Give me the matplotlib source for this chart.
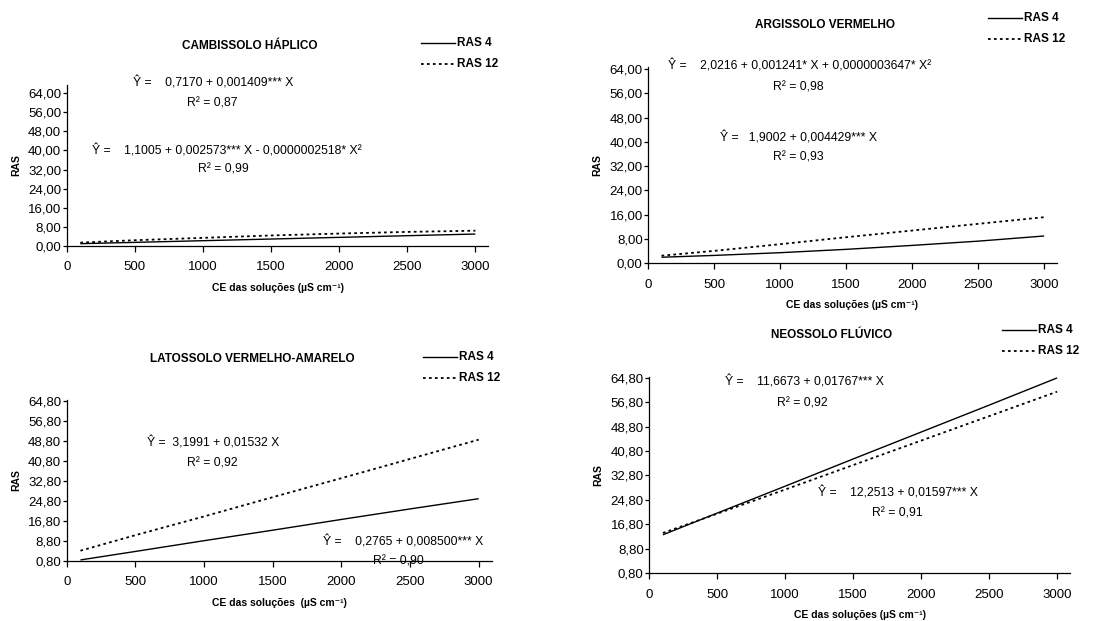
import matplotlib
matplotlib.use("Agg")
import matplotlib.pyplot as plt
from matplotlib.lines import Line2D

plt.rcParams['font.family'] = ['Liberation Sans', 'DejaVu Sans']

W, H = 1118, 621

# condutividade elétrica das soluções (x)
ce = [100, 500, 1000, 1500, 2000, 2500, 3000]

# valores
cambissolo_ras4 = [0.85, 1.4, 2.1, 2.8, 3.5, 4.2, 4.9]
cambissolo_ras12 = [1.3, 2.3, 3.3, 4.3, 5.1, 5.8, 6.3]
argissolo_ras4 = [2.0, 2.6, 3.5, 4.6, 5.9, 7.3, 9.0]
argissolo_ras12 = [2.5, 4.1, 6.3, 8.6, 10.8, 13.0, 15.2]
latossolo_ras4 = [1.1, 4.5, 8.8, 13.0, 17.3, 21.5, 25.6]
latossolo_ras12 = [4.8, 11.0, 18.5, 26.2, 33.8, 41.5, 49.2]
neossolo_ras4 = [13.4, 20.5, 29.3, 38.2, 47.0, 55.8, 64.7]
neossolo_ras12 = [14.0, 20.3, 28.2, 36.2, 44.2, 52.2, 60.2]

xticks = [0, 500, 1000, 1500, 2000, 2500, 3000]
yticks_a = [0, 8, 16, 24, 32, 40, 48, 56, 64]
yticks_b = [0.8, 8.8, 16.8, 24.8, 32.8, 40.8, 48.8, 56.8, 64.8]

DOTS = (0, (1.5, 1.8))


def rect(l, t, r, b):
    return [l / W, 1 - b / H, (r - l) / W, (b - t) / H]


def ftext(fig, x, y, s, **kw):
    kw.setdefault('fontsize', 8.8)
    kw.setdefault('va', 'center')
    fig.text(x / W, 1 - y / H, s, **kw)


def draw_panel(fig, box, ras4, ras12, yticks, ylim, title, title_xy,
               leg_xy, xlabel, equations):
    ax = fig.add_axes(rect(*box))
    ax.plot(ce, ras4, color='black', lw=1.0, solid_capstyle='butt')
    ax.plot(ce, ras12, color='black', lw=1.3, linestyle=DOTS)
    ax.set_xlim(0, 3095)
    ax.set_ylim(*ylim)
    ax.set_xticks(xticks)
    ax.set_xticklabels([str(v) for v in xticks])
    ax.set_yticks(yticks)
    ax.set_yticklabels([('%.2f' % v).replace('.', ',') for v in yticks])
    for side in ['top', 'right']:
        ax.spines[side].set_visible(False)
    for side in ['left', 'bottom']:
        ax.spines[side].set_linewidth(0.9)
    ax.tick_params(direction='out', width=0.9, labelsize=9.5)
    ax.tick_params(axis='y', length=3, pad=1)
    ax.tick_params(axis='x', length=4, pad=7)
    ax.set_xlabel(xlabel, fontsize=7.5, fontweight='bold', labelpad=7)
    ax.set_ylabel('RAS', fontsize=7.5, fontweight='bold', labelpad=5)

    ftext(fig, title_xy[0], title_xy[1], title, ha='center',
          fontweight='bold', fontsize=8.5)

    # legenda no estilo Excel
    lx, ly = leg_xy
    for dy, ls, lw, lab in [(0, '-', 1.0, 'RAS 4'),
                            (21, DOTS, 1.3, 'RAS 12')]:
        fig.add_artist(Line2D([lx / W, (lx + 34) / W],
                              [1 - (ly + dy) / H, 1 - (ly + dy) / H],
                              color='black', lw=lw, linestyle=ls))
        ftext(fig, lx + 36, ly + dy, lab, ha='left', fontweight='bold',
              fontsize=8.5)

    for x, y, s in equations:
        ftext(fig, x, y, s, ha='left')
    return ax


fig = plt.figure(figsize=(W / 100, H / 100), dpi=100, facecolor='white')

draw_panel(fig, (66.7, 85, 488.3, 245.7), cambissolo_ras4, cambissolo_ras12,
           yticks_a, (0, 67.5), 'CAMBISSOLO HÁPLICO', (250, 46),
           (421, 43), 'CE das soluções (µS cm⁻¹)',
           [(133, 83, 'Ŷ =    0,7170 + 0,001409*** X'),
            (187, 103, 'R² = 0,87'),
            (92, 151, 'Ŷ =    1,1005 + 0,002573*** X - 0,0000002518* X²'),
            (198, 170, 'R² = 0,99')])

draw_panel(fig, (648.3, 66.7, 1056.7, 263.3), argissolo_ras4, argissolo_ras12,
           yticks_a, (0, 64.8), 'ARGISSOLO VERMELHO', (825, 25),
           (988, 18), 'CE das soluções (µS cm⁻¹)',
           [(668, 66, 'Ŷ =    2,0216 + 0,001241* X + 0,0000003647* X²'),
            (773, 87, 'R² = 0,98'),
            (720, 138, 'Ŷ =   1,9002 + 0,004429*** X'),
            (773, 158, 'R² = 0,93')])

draw_panel(fig, (66.7, 400, 491.7, 560.7), latossolo_ras4, latossolo_ras12,
           yticks_b, (0.8, 65.07), 'LATOSSOLO VERMELHO-AMARELO', (252, 359),
           (423, 357), 'CE das soluções  (µS cm⁻¹)',
           [(147, 443, 'Ŷ =  3,1991 + 0,01532 X'),
            (187, 463, 'R² = 0,92'),
            (323, 542, 'Ŷ =    0,2765 + 0,008500*** X'),
            (373, 562, 'R² = 0,90')])

draw_panel(fig, (649.3, 376.7, 1070, 573.3), neossolo_ras4, neossolo_ras12,
           yticks_b, (0.8, 65.1), 'NEOSSOLO FLÚVICO', (832, 335),
           (1002, 330), 'CE das soluções (µS cm⁻¹)',
           [(725, 382, 'Ŷ =    11,6673 + 0,01767*** X'),
            (777, 403, 'R² = 0,92'),
            (818, 493, 'Ŷ =    12,2513 + 0,01597*** X'),
            (872, 513, 'R² = 0,91')])

fig.savefig('out.png', dpi=100, facecolor='white')
